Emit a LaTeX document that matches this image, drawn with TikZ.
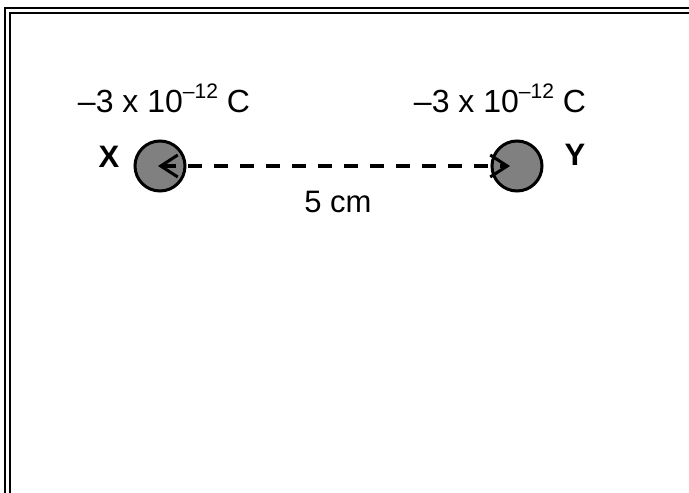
\documentclass[tikz,border=0pt]{standalone}
\usepackage{fontspec}
\setmainfont{Liberation Sans}
\usetikzlibrary{arrows.meta}
\newcommand{\chg}{\fontsize{32}{36}\selectfont –3 x 10\raisebox{0.42em}{\fontsize{21}{24}\selectfont –12} C}
\begin{document}
\begin{tikzpicture}[x=1pt,y=-1pt,
  frameline/.style={line width=2.2pt,black},
  charge/.style={circle,draw=black,line width=3pt,fill=black!50,minimum size=50pt,inner sep=0pt},
  lbl/.style={font=\fontsize{31}{34}\selectfont\bfseries,inner sep=0pt},
  txt/.style={inner sep=0pt,anchor=base},
  dist/.style={line width=3.5pt,dash pattern=on 14pt off 12pt,
    {Straight Barb[length=17pt,width=22pt,line width=3pt]}-{Straight Barb[length=17pt,width=22pt,line width=3pt]}}]
\useasboundingbox (0,0) rectangle (689,493);
\fill[white] (0,0) rectangle (689,493);
% frame
\draw[frameline] (5,493) -- (5,8) -- (689,8);
\draw[frameline] (10,493) -- (10,13) -- (689,13);
% charges
\node[charge] (X) at (160,166) {};
\node[charge] (Y) at (517,166) {};
\node[lbl] (xl) at (109,157) {X};
\node[lbl] (yl) at (575,155) {Y};
\node[txt] (xc) at (164,112) {\chg};
\node[txt] (yc) at (500,112) {\chg};
\draw[dist, shorten <=-2pt, shorten >=7pt] (X.center) -- (Y.center);
\node[txt,font=\fontsize{31}{34}\selectfont] (d) at (338,212) {5 cm};
\end{tikzpicture}
\end{document}
